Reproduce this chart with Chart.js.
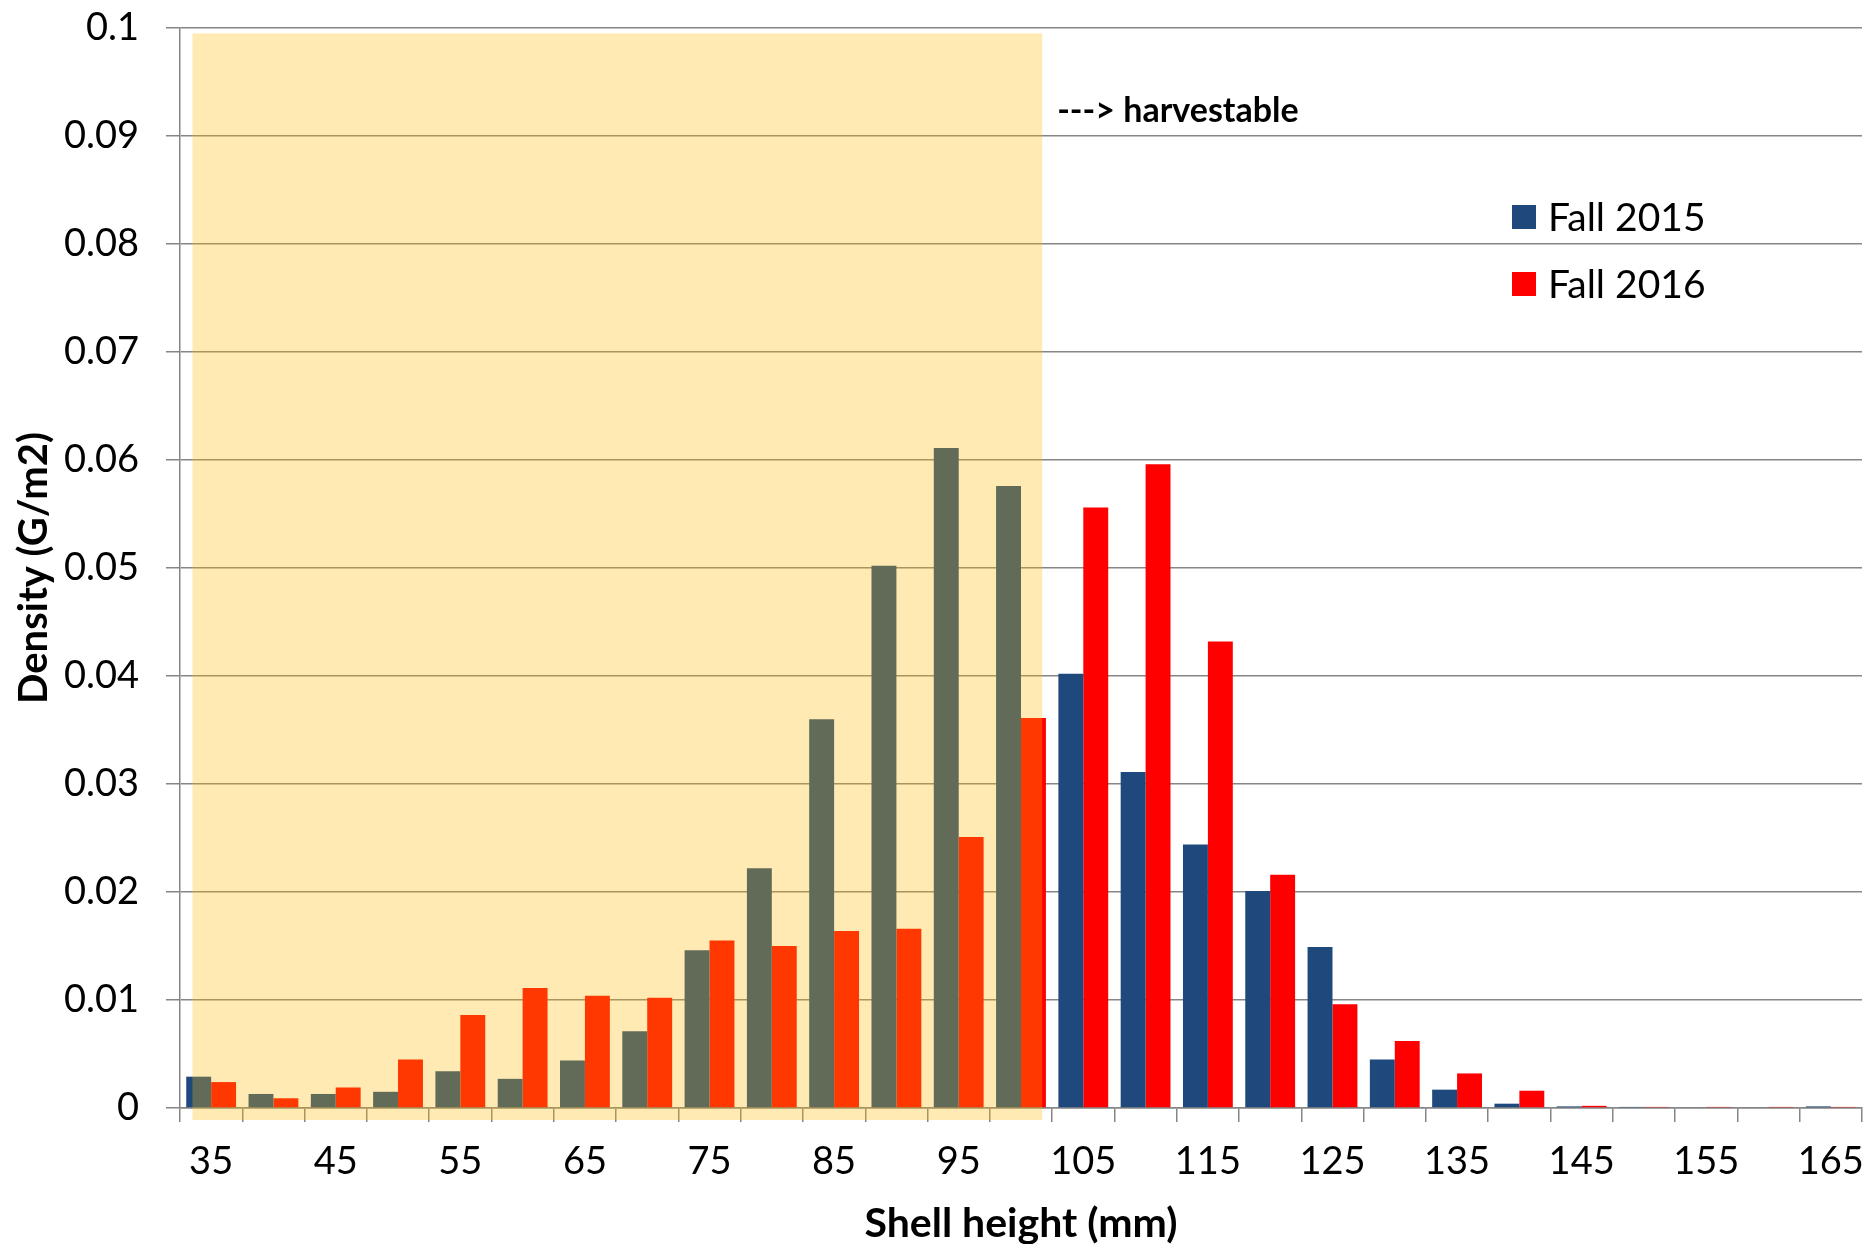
<!DOCTYPE html>
<html>
<head>
<meta charset="utf-8">
<script src="https://cdn.jsdelivr.net/npm/chart.js@4"></script>
<style>
  html, body { margin: 0; padding: 0; background: #fff; }
  #wrap { width: 1868px; height: 1244px; }
</style>
</head>
<body>
<div id="wrap"><canvas id="bar"></canvas></div>
<script>
// shell height classes (mm)
var heights = [35, 40, 45, 50, 55, 60, 65, 70, 75, 80, 85, 90, 95, 100, 105, 110, 115, 120, 125, 130, 135, 140, 145, 150, 155, 160, 165];

var fall2015 = [0.0029, 0.0013, 0.0013, 0.0015, 0.0034, 0.0027, 0.0044, 0.0071, 0.0146, 0.0222, 0.0360, 0.0502, 0.0611, 0.0576,
                0.0402, 0.0311, 0.0244, 0.0201, 0.0149, 0.0045, 0.0017, 0.0004, 0.00015, 0.0001, 0, 0, 0.00015];
var fall2016 = [0.0024, 0.0009, 0.0019, 0.0045, 0.0086, 0.0111, 0.0104, 0.0102, 0.0155, 0.0150, 0.0164, 0.0166, 0.0251, 0.0361,
                0.0556, 0.0596, 0.0432, 0.0216, 0.0096, 0.0062, 0.0032, 0.0016, 0.0002, 0.0001, 0.0001, 0.0001, 0.0001];

var yTicks = [0, 0.01, 0.02, 0.03, 0.04, 0.05, 0.06, 0.07, 0.08, 0.09, 0.1];

// the non-harvestable size range that gets shaded (mm)
var shadeFrom = 33.5;
var shadeTo = 101.7;

var font = "Lato, 'Open Sans', sans-serif";
var gridGray = '#868686';

// shaded band, note text and legend
var extras = {
    id: 'extras',
    afterDatasetsDraw: function (chart) {
        var c = chart.ctx, x = chart.scales.x, y = chart.scales.y;
        var cw = (x.right - x.left) / heights.length;
        var mmPx = function (mm) { return x.left + (mm - heights[0] + 2.5) / 5 * cw; };
        var left = mmPx(shadeFrom), right = mmPx(shadeTo);
        var top = y.getPixelForValue(0.0995), bottom = y.bottom + 12;
        c.save();
        c.fillStyle = 'rgba(252, 187, 0, 0.30)';
        c.fillRect(left, top, right - left, bottom - top);

        c.fillStyle = '#000';
        c.font = 'bold 34px ' + font;
        c.textBaseline = 'alphabetic';
        c.textAlign = 'left';
        c.fillText('---> harvestable', right + 15, y.getPixelForValue(0.0913));

        // legend
        var ds = chart.data.datasets;
        c.font = '39px ' + font;
        c.textBaseline = 'middle';
        for (var i = 0; i < ds.length; i++) {
            var ly = y.getPixelForValue(0.0825) + i * 67;
            c.fillStyle = ds[i].backgroundColor;
            c.fillRect(x.right - 350, ly - 12, 24, 24);
            c.fillStyle = '#000';
            c.fillText(ds[i].label, x.right - 314, ly + 1);
        }
        c.restore();
    }
};

var ctx = document.getElementById('bar').getContext('2d');
var chart = new Chart(ctx, {
    type: 'bar',
    data: {
        labels: heights,
        datasets: [{
            label: 'Fall 2015',
            backgroundColor: '#1F497D',
            data: fall2015
        }, {
            label: 'Fall 2016',
            backgroundColor: '#FF0000',
            data: fall2016
        }]
    },
    options: {
        responsive: true,
        maintainAspectRatio: false,
        animation: false,
        layout: { padding: { top: 28, right: 6, left: 0, bottom: 0 } },
        datasets: { bar: { categoryPercentage: 0.8, barPercentage: 1.0 } },
        plugins: {
            legend: { display: false },
            tooltip: { enabled: false }
        },
        scales: {
            x: {
                grid: { display: true, drawOnChartArea: false, offset: true, color: gridGray, lineWidth: 1.5, tickLength: 14 },
                border: { color: gridGray, width: 1.5 },
                ticks: {
                    autoSkip: false, maxRotation: 0, color: '#000', padding: 17,
                    font: { family: font, size: 38 },
                    callback: function (v, i) { return i % 2 === 0 ? String(heights[i]) : ''; }
                },
                title: {
                    display: true, text: 'Shell height (mm)', color: '#000',
                    font: { family: font, size: 41, weight: 'bold', lineHeight: 1.0 }, padding: { top: 0, bottom: 0 }
                },
                afterFit: function (s) { s.height = 136; s.paddingLeft = 0; s.paddingRight = 0; }
            },
            y: {
                min: 0, max: 0.1,
                afterBuildTicks: function (s) { s.ticks = yTicks.map(function (v) { return { value: v }; }); },
                grid: { color: gridGray, lineWidth: 1.5, tickLength: 14 },
                border: { color: gridGray, width: 1.5 },
                ticks: {
                    color: '#000', padding: 27,
                    font: { family: font, size: 38 },
                    callback: function (v) { return String(+v.toFixed(2)); }
                },
                title: {
                    display: true, text: 'Density (G/m2)', color: '#000',
                    font: { family: font, size: 40, weight: 'bold' }, padding: { top: 10, bottom: 0 }
                },
                afterFit: function (s) { s.width = 180; s.paddingTop = 0; s.paddingBottom = 0; }
            }
        }
    },
    plugins: [extras]
});
</script>
</body>
</html>
